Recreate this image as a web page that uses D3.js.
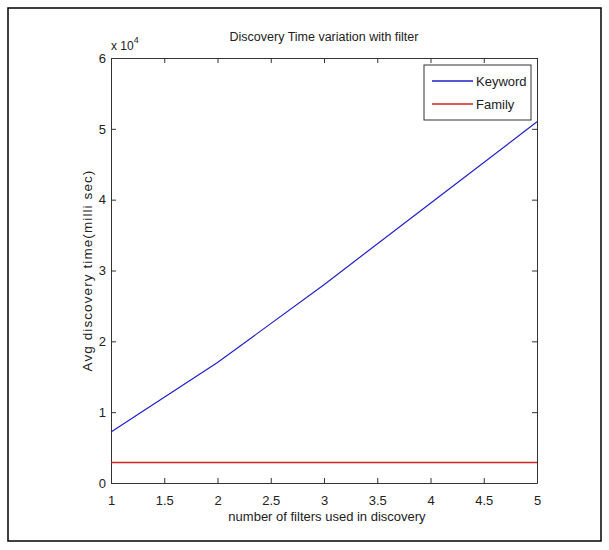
<!DOCTYPE html>
<html lang="en">
<head>
	<meta charset="UTF-8"/>
	<title>Discovery Time variation with filter</title>
	<script src="https://d3js.org/d3.v7.min.js"></script>
	<style>
		body { margin:0; background:#fff; }
		text { font-family: "Liberation Sans", Arial, sans-serif; fill:#222; }
	</style>
</head>
<body>
<script>
	// number of filters
	var filters = [1, 2, 3, 4, 5];
	// avg discovery time (ms)
	var keyword = [7200, 17000, 28000, 39500, 51000];
	var family  = [2900, 2900, 2900, 2900, 2900];

	var xTicks = [1, 1.5, 2, 2.5, 3, 3.5, 4, 4.5, 5];
	var yTicks = [0, 1, 2, 3, 4, 5, 6];   // x 10^4

	var w = 609, h = 550;
	var padL = 111, padR = 537, padT = 58, padB = 483;

	var svg = d3.select("body").append("svg")
				.attr("width", w)
				.attr("height", h);

	// outer frame
	svg.append("rect")
		.attr("x", 8).attr("y", 8)
		.attr("width", 593).attr("height", 533)
		.attr("fill", "none")
		.attr("stroke", "#000")
		.attr("stroke-width", 1.5);

	var xScale = d3.scaleLinear().domain([1, 5]).range([padL, padR]);
	var yScale = d3.scaleLinear().domain([0, 60000]).range([padB, padT]);

	//------------axes (matlab style, ticks inward)-------------
	var tick = 5;
	svg.append("g")
		.attr("transform", "translate(0," + padB + ")")
		.call(d3.axisBottom(xScale).tickValues(xTicks).tickSizeInner(-tick).tickSizeOuter(0)
			.tickPadding(13).tickFormat(function(d){ return d; }));
	svg.append("g")
		.attr("transform", "translate(0," + padT + ")")
		.call(d3.axisTop(xScale).tickValues(xTicks).tickSizeInner(-tick).tickSizeOuter(0)
			.tickFormat(""));
	svg.append("g")
		.attr("transform", "translate(" + padL + ",0)")
		.call(d3.axisLeft(yScale).tickValues(yTicks.map(function(d){ return d * 10000; }))
			.tickSizeInner(-tick).tickSizeOuter(0).tickPadding(5)
			.tickFormat(function(d){ return d / 10000; }));
	svg.append("g")
		.attr("transform", "translate(" + padR + ",0)")
		.call(d3.axisRight(yScale).tickValues(yTicks.map(function(d){ return d * 10000; }))
			.tickSizeInner(-tick).tickSizeOuter(0).tickFormat(""));

	svg.selectAll(".domain").attr("stroke", "#333");
	svg.selectAll(".tick line").attr("stroke", "#333");
	svg.selectAll(".tick text")
		.style("font-family", "'Liberation Sans', Arial, sans-serif")
		.style("font-size", "13px")
		.attr("fill", "#222");

	//------------lines-------------
	var line = d3.line()
		.x(function(d, i){ return xScale(filters[i]); })
		.y(function(d){ return yScale(d); });

	svg.append("path").datum(keyword)
		.attr("d", line)
		.attr("fill", "none")
		.attr("stroke", "#2020c8")
		.attr("stroke-width", 1.2);

	svg.append("path").datum(family)
		.attr("d", line)
		.attr("fill", "none")
		.attr("stroke", "#d42020")
		.attr("stroke-width", 1.5);

	//------------texts-------------
	svg.append("text")
		.attr("x", (padL + padR) / 2).attr("y", 41)
		.attr("text-anchor", "middle")
		.style("font-size", "12.5px")
		.text("Discovery Time variation with filter");

	var exp = svg.append("text")
		.attr("x", padL).attr("y", 50)
		.style("font-size", "12px");
	exp.append("tspan").text("x 10");
	exp.append("tspan").attr("dy", -7).style("font-size", "9px").text("4");

	svg.append("text")
		.attr("x", (padL + padR) / 2 + 3).attr("y", 521)
		.attr("text-anchor", "middle")
		.style("font-size", "13px")
		.text("number of filters used in discovery");

	svg.append("text")
		.attr("transform", "translate(92," + (padT + padB) / 2 + ") rotate(-90)")
		.attr("text-anchor", "middle")
		.style("font-size", "13.5px")
		.style("letter-spacing", "1.1px")
		.text("Avg discovery time(milli sec)");

	//------------legend-------------
	var legend = svg.append("g").attr("transform", "translate(424,65)");
	legend.append("rect")
		.attr("width", 107).attr("height", 55)
		.attr("fill", "#fff")
		.attr("stroke", "#333");
	var names = ["Keyword", "Family"];
	var colors = ["#2020c8", "#d42020"];
	legend.selectAll("line.key").data(names).enter().append("line")
		.attr("x1", 8).attr("x2", 49)
		.attr("y1", function(d, i){ return 16 + i * 23; })
		.attr("y2", function(d, i){ return 16 + i * 23; })
		.attr("stroke", function(d, i){ return colors[i]; })
		.attr("stroke-width", 1.3);
	legend.selectAll("text").data(names).enter().append("text")
		.attr("x", 52)
		.attr("y", function(d, i){ return 21 + i * 23; })
		.style("font-size", "13px")
		.text(function(d){ return d; });
</script>
</body>
</html>
